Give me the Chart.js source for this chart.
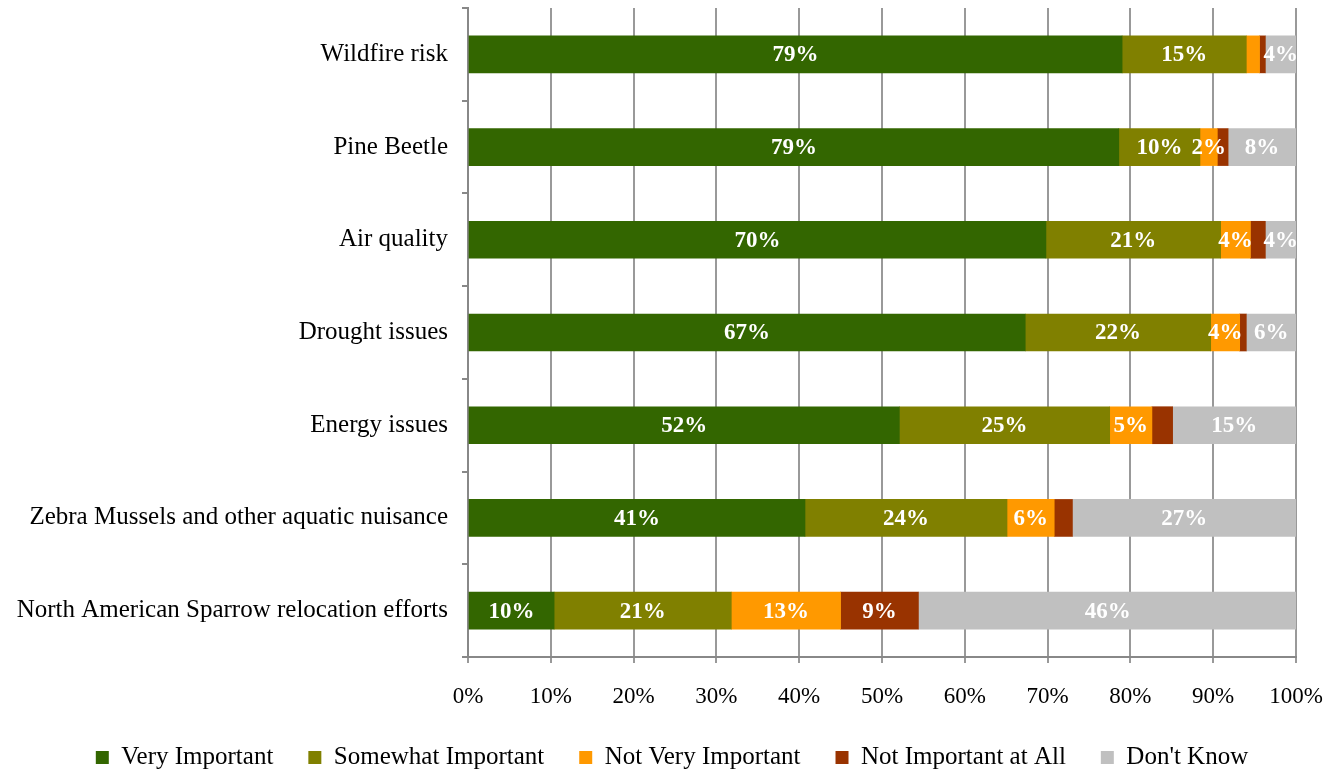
<!DOCTYPE html>
<html>
<head>
<meta charset="utf-8">
<script src="https://cdn.jsdelivr.net/npm/chart.js@4.4.0/dist/chart.umd.min.js"></script>
<style>
  html, body { margin: 0; padding: 0; background: #fff; }
  #wrap { width: 1344px; height: 770px; position: relative; }
</style>
</head>
<body>
<div id="wrap"><canvas id="chart"></canvas></div>
<script>
// Categories (top to bottom)
const issues = [
    'Wildfire risk',
    'Pine Beetle',
    'Air quality',
    'Drought issues',
    'Energy issues',
    'Zebra Mussels and other aquatic nuisance',
    'North American Sparrow relocation efforts'
];

// Series values (% of respondents)
const veryImportant     = [79.0, 78.6, 69.8, 67.3, 52.1, 40.7, 10.4];
const somewhatImportant = [15.0,  9.8, 21.1, 22.4, 25.4, 24.4, 21.4];
const notVeryImportant  = [ 1.6,  2.1,  3.6,  3.5,  5.1,  5.7, 13.2];
const notImportantAtAll = [ 0.7,  1.3,  1.8,  0.8,  2.5,  2.2,  9.4];
const dontKnow          = [ 3.7,  8.2,  3.7,  6.0, 14.9, 27.0, 45.7];

const seriesNames = ['Very Important', 'Somewhat Important', 'Not Very Important', 'Not Important at All', "Don't Know"];
const seriesColors = ['#336600', '#808000', '#FF9900', '#993300', '#C0C0C0'];

// x ticks 0..100 step 10
const xTicks = [0, 10, 20, 30, 40, 50, 60, 70, 80, 90, 100];

const FONT = "'Liberation Serif', 'DejaVu Serif', serif";

// white value labels centered in each segment
const segmentLabels = {
    id: 'segmentLabels',
    afterDatasetsDraw(chart) {
        const ctx = chart.ctx;
        ctx.save();
        ctx.font = 'bold 23px ' + FONT;
        ctx.fillStyle = '#ffffff';
        ctx.textAlign = 'center';
        ctx.textBaseline = 'middle';
        chart.data.datasets.forEach((ds, di) => {
            const meta = chart.getDatasetMeta(di);
            meta.data.forEach((bar, i) => {
                const v = ds.data[i];
                // small slivers get no label; the dark red series only shows big ones
                if (v < 2) return;
                if (di === 3 && v < 5) return;
                const cx = (bar.x + bar.base) / 2;
                ctx.fillText(Math.round(v) + '%', cx, bar.y + 1);
            });
        });
        ctx.restore();
    }
};

const datasets = [veryImportant, somewhatImportant, notVeryImportant, notImportantAtAll, dontKnow].map((d, i) => ({
    label: seriesNames[i],
    data: d,
    backgroundColor: seriesColors[i],
    borderWidth: 0,
    barThickness: 37
}));

new Chart(document.getElementById('chart'), {
    type: 'bar',
    data: { labels: issues, datasets: datasets },
    plugins: [segmentLabels],
    options: {
        indexAxis: 'y',
        responsive: true,
        maintainAspectRatio: false,
        animation: false,
        layout: { padding: { top: 8, right: 0, left: 0, bottom: -10 } },
        plugins: {
            legend: {
                position: 'bottom',
                labels: {
                    font: { family: FONT, size: 25 },
                    color: '#000',
                    boxWidth: 13,
                    boxHeight: 13,
                    padding: 35
                }
            },
            tooltip: { enabled: false }
        },
        scales: {
            x: {
                stacked: true,
                min: 0,
                max: 100,
                afterBuildTicks(scale) {
                    scale.ticks = xTicks.map(v => ({ value: v }));
                },
                ticks: {
                    callback: v => v + '%',
                    font: { family: FONT, size: 23 },
                    color: '#000',
                    padding: 20,
                    maxRotation: 0
                },
                grid: {
                    color: '#999',
                    lineWidth: 2,
                    drawTicks: true,
                    tickLength: 6
                },
                border: { color: '#888', width: 2 },
                afterFit(scale) {
                    scale.height = 53;
                    scale.paddingRight = 48;
                    scale.paddingLeft = 0;
                }
            },
            y: {
                stacked: true,
                ticks: {
                    font: { family: FONT, size: 25 },
                    color: '#000',
                    padding: 14
                },
                grid: {
                    offset: true,
                    drawOnChartArea: false,
                    drawTicks: true,
                    tickLength: 6,
                    color: '#888',
                    lineWidth: 2
                },
                border: { color: '#888', width: 2 },
                afterFit(scale) {
                    scale.width = 468;
                    scale.paddingTop = 0;
                    scale.paddingBottom = 0;
                }
            }
        }
    }
});
</script>
</body>
</html>
